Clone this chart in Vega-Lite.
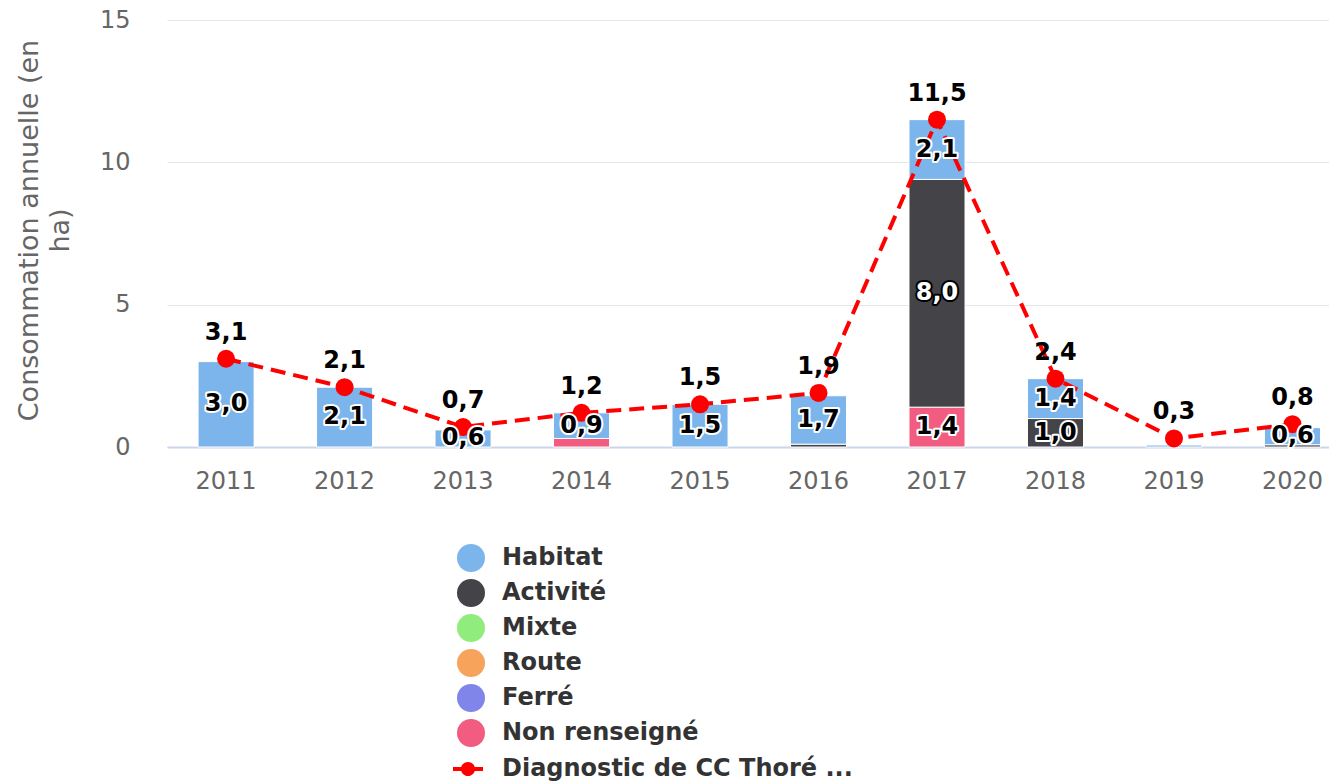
{
  "$schema": "https://vega.github.io/schema/vega-lite/v6.json",
  "width": 1162,
  "height": 427,
  "autosize": "none",
  "padding": {"left": 167, "top": 20, "right": 0, "bottom": 336},
  "background": "white",
  "config": {
    "view": {"stroke": null},
    "font": "DejaVu Sans",
    "locale": {"number": {"decimal": ",", "thousands": " ", "grouping": [3], "currency": ["", " €"]}}
  },
  "datasets": {
    "bars": [
      {"year": 2011, "cat": "Habitat", "val": 3.0},
      {"year": 2012, "cat": "Habitat", "val": 2.1},
      {"year": 2013, "cat": "Habitat", "val": 0.6},
      {"year": 2014, "cat": "Non renseigné", "val": 0.3},
      {"year": 2014, "cat": "Habitat", "val": 0.9},
      {"year": 2015, "cat": "Habitat", "val": 1.5},
      {"year": 2016, "cat": "Activité", "val": 0.1},
      {"year": 2016, "cat": "Habitat", "val": 1.7},
      {"year": 2017, "cat": "Non renseigné", "val": 1.4},
      {"year": 2017, "cat": "Activité", "val": 8.0},
      {"year": 2017, "cat": "Habitat", "val": 2.1},
      {"year": 2018, "cat": "Activité", "val": 1.0},
      {"year": 2018, "cat": "Habitat", "val": 1.4},
      {"year": 2019, "cat": "Habitat", "val": 0.07},
      {"year": 2020, "cat": "Activité", "val": 0.08},
      {"year": 2020, "cat": "Habitat", "val": 0.6}
    ],
    "totals": [
      {"year": 2011, "serie": "Diagnostic de CC Thoré ...", "total": 3.1},
      {"year": 2012, "serie": "Diagnostic de CC Thoré ...", "total": 2.1},
      {"year": 2013, "serie": "Diagnostic de CC Thoré ...", "total": 0.7},
      {"year": 2014, "serie": "Diagnostic de CC Thoré ...", "total": 1.2},
      {"year": 2015, "serie": "Diagnostic de CC Thoré ...", "total": 1.5},
      {"year": 2016, "serie": "Diagnostic de CC Thoré ...", "total": 1.9},
      {"year": 2017, "serie": "Diagnostic de CC Thoré ...", "total": 11.5},
      {"year": 2018, "serie": "Diagnostic de CC Thoré ...", "total": 2.4},
      {"year": 2019, "serie": "Diagnostic de CC Thoré ...", "total": 0.3},
      {"year": 2020, "serie": "Diagnostic de CC Thoré ...", "total": 0.8}
    ]
  },
  "encoding": {
    "x": {
      "field": "year",
      "type": "ordinal",
      "scale": {"paddingInner": 0.527, "paddingOuter": 0.167, "align": 0.785},
      "axis": {
        "title": null,
        "labelAngle": 0,
        "labelFontSize": 24,
        "labelColor": "#666666",
        "labelPadding": 22,
        "ticks": false,
        "domainColor": "#ccd6eb",
        "domainWidth": 2,
        "grid": false
      }
    }
  },
  "layer": [
    {
      "data": {"name": "bars"},
      "transform": [
        {"calculate": "indexof(['Non renseigné','Ferré','Route','Mixte','Activité','Habitat'], datum.cat)", "as": "ord"},
        {"stack": "val", "groupby": ["year"], "sort": [{"field": "ord", "order": "ascending"}], "as": ["v0", "v1"]}
      ],
      "mark": {"type": "bar", "stroke": "white", "strokeWidth": 1},
      "encoding": {
        "y": {
          "field": "v0",
          "type": "quantitative",
          "scale": {"domain": [0, 15], "nice": false},
          "axis": {
            "values": [0, 5, 10, 15],
            "grid": true,
            "gridColor": "#e6e6e6",
            "domain": false,
            "ticks": false,
            "labelFontSize": 24,
            "labelColor": "#666666",
            "labelPadding": 37,
            "title": ["Consommation annuelle (en", "ha)"],
            "titleFontSize": 27,
            "titleFontWeight": "normal",
            "titleColor": "#666666",
            "titleAngle": -90,
            "titleX": -151,
            "titleY": 210,
            "titleAlign": "center",
            "titleBaseline": "top",
            "titleLineHeight": 31
          }
        },
        "y2": {"field": "v1"},
        "color": {
          "field": "cat",
          "type": "nominal",
          "scale": {
            "domain": ["Habitat", "Activité", "Mixte", "Route", "Ferré", "Non renseigné"],
            "range": ["#7cb5ec", "#434348", "#90ed7d", "#f7a35c", "#8085e9", "#f15c80"]
          },
          "legend": {
            "title": null,
            "orient": "none",
            "legendX": 290,
            "legendY": 524,
            "direction": "vertical",
            "symbolType": "circle",
            "symbolSize": 784,
            "symbolStrokeWidth": 0,
            "labelFontSize": 24,
            "labelFontWeight": "bold",
            "labelColor": "#333333",
            "labelOffset": 17,
            "labelLimit": 600,
            "rowPadding": 7,
            "padding": 0
          }
        }
      }
    },
    {
      "data": {"name": "totals"},
      "mark": {"type": "line", "strokeWidth": 4, "strokeDash": [15, 8], "color": "#ff0000"},
      "encoding": {
        "y": {"field": "total", "type": "quantitative"}
      }
    },
    {
      "data": {"name": "totals"},
      "mark": {"type": "point", "filled": true, "color": "#ff0000", "size": 324, "opacity": 1, "strokeWidth": 0},
      "encoding": {
        "y": {"field": "total", "type": "quantitative"},
        "stroke": {
          "field": "serie",
          "type": "nominal",
          "scale": {"range": ["#ff0000"]},
          "legend": {
            "title": null,
            "orient": "none",
            "legendX": 286,
            "legendY": 734,
            "symbolType": "M-1,-0.14L-0.44,-0.14L-0.44,0.14L-1,0.14Z M0.44,-0.14L1,-0.14L1,0.14L0.44,0.14Z M0.47,0A0.47,0.47 0 1,1 -0.47,0A0.47,0.47 0 1,1 0.47,0Z",
            "symbolSize": 900,
            "symbolFillColor": "#ff0000",
            "symbolStrokeColor": "#ff0000",
            "symbolStrokeWidth": 0,
            "labelFontSize": 24,
            "labelFontWeight": "bold",
            "labelColor": "#333333",
            "labelOffset": 19,
            "labelLimit": 600,
            "padding": 0
          }
        }
      }
    },
    {
      "data": {"name": "bars"},
      "transform": [
        {"calculate": "indexof(['Non renseigné','Ferré','Route','Mixte','Activité','Habitat'], datum.cat)", "as": "ord"},
        {"stack": "val", "groupby": ["year"], "sort": [{"field": "ord", "order": "ascending"}], "as": ["v0", "v1"]},
        {"calculate": "(datum.v0 + datum.v1) / 2", "as": "vmid"},
        {"filter": "datum.val >= 0.5"}
      ],
      "mark": {"type": "text", "fontSize": 24, "fontWeight": "bold", "strokeWidth": 4, "strokeJoin": "round", "baseline": "middle"},
      "encoding": {
        "y": {"field": "vmid", "type": "quantitative"},
        "text": {"field": "val", "type": "quantitative", "format": ".1f"},
        "stroke": {"condition": {"test": "datum.val >= 5", "value": "#000000"}, "value": "#ffffff"},
        "fill": {"condition": {"test": "datum.val >= 5", "value": "#000000"}, "value": "#ffffff"}
      }
    },
    {
      "data": {"name": "bars"},
      "transform": [
        {"calculate": "indexof(['Non renseigné','Ferré','Route','Mixte','Activité','Habitat'], datum.cat)", "as": "ord"},
        {"stack": "val", "groupby": ["year"], "sort": [{"field": "ord", "order": "ascending"}], "as": ["v0", "v1"]},
        {"calculate": "(datum.v0 + datum.v1) / 2", "as": "vmid"},
        {"filter": "datum.val >= 0.5"}
      ],
      "mark": {"type": "text", "fontSize": 24, "fontWeight": "bold", "baseline": "middle"},
      "encoding": {
        "y": {"field": "vmid", "type": "quantitative"},
        "text": {"field": "val", "type": "quantitative", "format": ".1f"},
        "color": {"condition": {"test": "datum.val >= 5", "value": "#ffffff"}, "value": "#000000"}
      }
    },
    {
      "data": {"name": "totals"},
      "mark": {"type": "text", "fontSize": 24, "fontWeight": "bold", "color": "#000000", "dy": -26, "baseline": "middle"},
      "encoding": {
        "y": {"field": "total", "type": "quantitative"},
        "text": {"field": "total", "type": "quantitative", "format": ".1f"}
      }
    }
  ]
}
